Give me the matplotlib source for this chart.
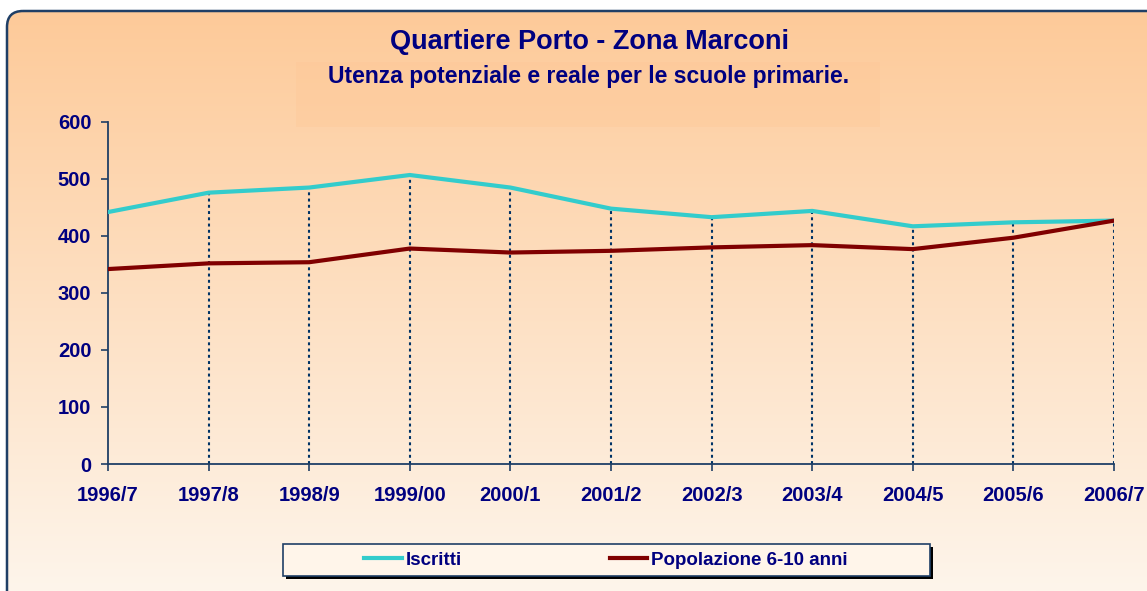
import numpy as np
import matplotlib.pyplot as plt
from matplotlib.patches import FancyBboxPatch, Rectangle
from matplotlib.lines import Line2D

plt.rcParams['font.family'] = ['Liberation Sans', 'DejaVu Sans']
plt.rcParams['font.weight'] = 'bold'

# ------ Data ------
anni = ["1996/7", "1997/8", "1998/9", "1999/00", "2000/1", "2001/2",
        "2002/3", "2003/4", "2004/5", "2005/6", "2006/7"]
iscritti = [442, 476, 485, 507, 485, 448, 433, 444, 417, 424, 427]
popolazione = [342, 352, 354, 378, 371, 374, 380, 384, 377, 397, 427]

navy = "#000080"
axis_col = "#1F3F66"
drop_col = "#003366"
cyan = "#33CCCC"
dark_red = "#800000"

W, H = 1147, 591
fig = plt.figure(figsize=(W / 100, H / 100), dpi=100)
fig.patch.set_facecolor("white")

# ----- background (pixel coordinates) -----
bg = fig.add_axes([0, 0, 1, 1], zorder=-10)
bg.set_xlim(0, W)
bg.set_ylim(H, 0)
bg.axis("off")

frame = FancyBboxPatch((7, 11), 1180, 640, boxstyle="round,pad=0,rounding_size=16",
                       facecolor="none", edgecolor=axis_col, linewidth=1.8, zorder=3)
bg.add_patch(frame)
grad = np.linspace(0, 1, 256).reshape(-1, 1)
top = np.array([253, 202, 153]) / 255
bottom = np.array([254, 245, 235]) / 255
img = top + (bottom - top) * grad[..., None]
im = bg.imshow(img, extent=[7, 1187, 591, 11], aspect="auto", zorder=1)
im.set_clip_path(frame)
bg.add_patch(Rectangle((296, 62), 584, 65, facecolor="#FDC796", alpha=0.35,
                       edgecolor="none", zorder=2))

# ----- legend box with shadow -----
bg.add_patch(Rectangle((286, 547), 647, 32, facecolor="black", edgecolor="none", zorder=4))
bg.add_patch(Rectangle((283, 544), 647, 32, facecolor="#FFF5EA", edgecolor=axis_col,
                       linewidth=1.2, zorder=5))

# ----- titles -----
fig.text(589 / W, 1 - 42 / H, "Quartiere Porto - Zona Marconi", ha="center", va="center",
         fontsize=19.5, color=navy, fontweight="bold")
fig.text(589 / W, 1 - 76 / H, "Utenza potenziale e reale per le scuole primarie.",
         ha="center", va="center", fontsize=16.5, color=navy, fontweight="bold")

# ----- main plot -----
ax = fig.add_axes([108 / W, 1 - 464 / H, (1114 - 108) / W, (464 - 122) / H])
ax.patch.set_alpha(0)
x = np.arange(len(anni))

# drop lines
tops = [max(a, b) for a, b in zip(iscritti, popolazione)]
ax.vlines(x[1:], 0, tops[1:], colors=drop_col, linestyles=(0, (1.4, 1.6)), linewidth=1.5,
          zorder=1)

ax.plot(x, iscritti, color=cyan, linewidth=3, label="Iscritti", zorder=3,
        solid_joinstyle="miter")
ax.plot(x, popolazione, color=dark_red, linewidth=3, label="Popolazione 6-10 anni",
        zorder=3, solid_joinstyle="miter")

ax.set_xlim(0, len(anni) - 1)
ax.set_ylim(0, 600)
ax.set_yticks(range(0, 601, 100))
ax.set_xticks(x)
ax.set_xticklabels(anni)

for s in ["top", "right"]:
    ax.spines[s].set_visible(False)
for s in ["left", "bottom"]:
    ax.spines[s].set_color(axis_col)
    ax.spines[s].set_linewidth(1.3)

ax.tick_params(axis="y", direction="out", length=5, width=1.2, color=axis_col,
               labelsize=14.5, labelcolor=navy, pad=7)
ax.tick_params(axis="x", direction="out", length=5, width=1.2, color=axis_col,
               labelsize=14.5, labelcolor=navy, pad=11)
for lbl in ax.get_xticklabels() + ax.get_yticklabels():
    lbl.set_fontweight("bold")

# ----- legend -----
handles = [Line2D([], [], color=cyan, linewidth=3), Line2D([], [], color=dark_red, linewidth=3)]
leg = fig.legend(handles, ["Iscritti", "Popolazione 6-10 anni"], loc="center",
                 bbox_to_anchor=(606 / W, 1 - 560 / H), ncol=2, frameon=False,
                 handlelength=2.0, handletextpad=0.2, columnspacing=7.9,
                 prop={"size": 13.5, "weight": "bold"})
for t in leg.get_texts():
    t.set_color(navy)

fig.savefig("out.png", dpi=100)
